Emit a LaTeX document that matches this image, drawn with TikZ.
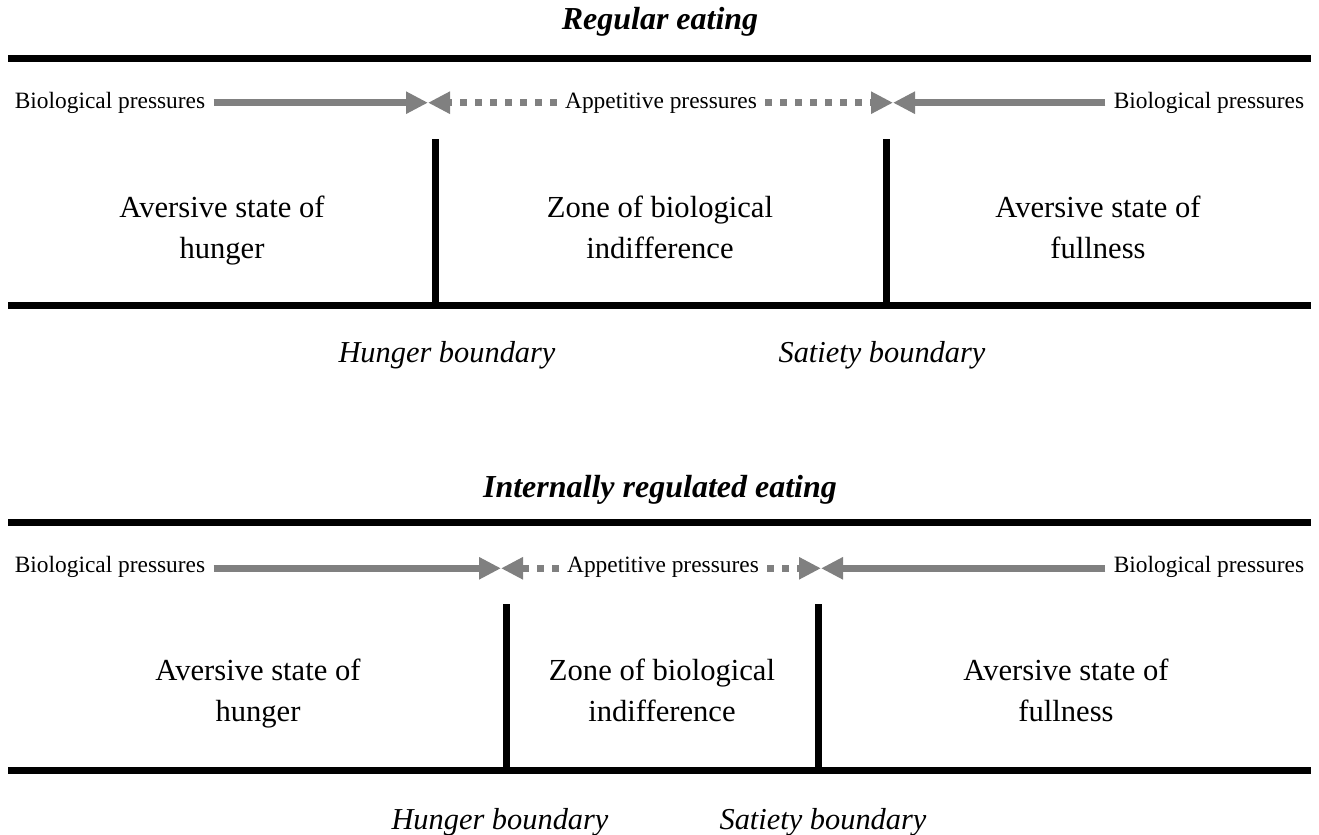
\documentclass[tikz,border=0pt]{standalone}
\usepackage{fontspec}
\setmainfont{Liberation Serif}
\usetikzlibrary{arrows.meta,positioning}

\tikzset{
    bar/.style={line width=3.5pt},
    press/.style={anchor=base, font=\fontsize{11.7}{13}\selectfont, inner xsep=4pt, inner ysep=0pt},
    bio/.style={draw=gray, line width=3.5pt, -{Triangle[length=11pt,width=10.5pt]}},
    appet/.style={bio, dash pattern=on 3.5pt off 4pt},
    state/.style={anchor=base, align=center, font=\fontsize{15.3}{20.5}\selectfont},
    bound/.style={anchor=base, font=\fontsize{15.2}{18}\selectfont\itshape},
    heading/.style={font=\fontsize{16}{19}\selectfont\bfseries\itshape}
}

\begin{document}
\begin{tikzpicture}[x=0.5pt, y=-0.5pt]
    \useasboundingbox (0,0) rectangle (1319,835);

    % Regular eating - upper panel
    \node[heading] (regtitle) at (660,22) {Regular eating};
    \draw[bar] (8,58) -- (1311,58);
    \draw[bar] (8,305) -- (1311,305);

    \node[press] (regbiol) at (110,108) {Biological pressures};
    \node[press] (regapp) at (661,108) {Appetitive pressures};
    \node[press] (regbior) at (1209,108) {Biological pressures};
    \coordinate (reghm) at (428,102.7);
    \coordinate (regsm) at (893,102.7);
    \draw[bio] (regbiol.east |- reghm) -- (reghm);
    \draw[appet] (regapp.west |- reghm) -- (reghm);
    \draw[appet] (regapp.east |- regsm) -- (regsm);
    \draw[bio] (regbior.west |- regsm) -- (regsm);

    % boundaries
    \draw[bar] (435.7,139) -- (435.7,305);
    \draw[bar] (886,139) -- (886,305);

    \node[state] (reghunger) at (222,258) {Aversive state of\\hunger};
    \node[state] (regzone) at (660,258) {Zone of biological\\indifference};
    \node[state] (regfull) at (1098,258) {Aversive state of\\fullness};

    \node[bound] (reghb) at (447,362) {Hunger boundary};
    \node[bound] (regsb) at (882,362) {Satiety boundary};

    % Internally regulated eating - lower panel
    \node[heading] (inttitle) at (660,490) {Internally regulated eating};
    \draw[bar] (8,522) -- (1311,522);
    \draw[bar] (8,770) -- (1311,770);

    \node[press] (intbiol) at (110,572) {Biological pressures};
    \node[press] (intapp) at (663,572) {Appetitive pressures};
    \node[press] (intbior) at (1209,572) {Biological pressures};
    \coordinate (inthm) at (501,568.3);
    \coordinate (intsm) at (821,568.3);
    \draw[bio] (intbiol.east |- inthm) -- (inthm);
    \draw[appet] (intapp.west |- inthm) -- (inthm);
    \draw[appet] (intapp.east |- intsm) -- (intsm);
    \draw[bio] (intbior.west |- intsm) -- (intsm);

    % boundaries
    \draw[bar] (506.7,604) -- (506.7,770);
    \draw[bar] (818,604) -- (818,770);

    \node[state] (inthunger) at (258,721) {Aversive state of\\hunger};
    \node[state] (intzone) at (662,721) {Zone of biological\\indifference};
    \node[state] (intfull) at (1066,721) {Aversive state of\\fullness};

    \node[bound] (inthb) at (500,829) {Hunger boundary};
    \node[bound] (intsb) at (823,829) {Satiety boundary};
\end{tikzpicture}
\end{document}
